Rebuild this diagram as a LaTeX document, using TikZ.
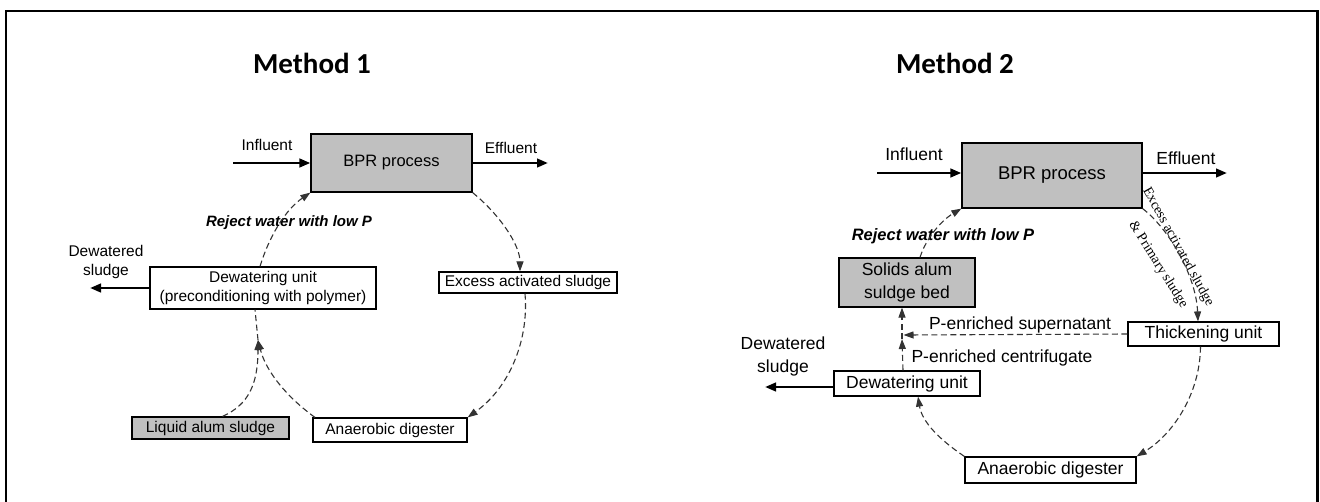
\documentclass[tikz,border=0pt]{standalone}
\usepackage{fontspec}
\setmainfont{Liberation Sans}
\newfontfamily\titlefont{Carlito}
\newfontfamily\seriffont{Liberation Serif}
\usetikzlibrary{arrows.meta}
\definecolor{boxgray}{RGB}{192,192,192}
\newcommand{\fmone}{\fontsize{15.5}{19}\selectfont}
\newcommand{\fmtwo}{\fontsize{17.5}{23}\selectfont}
\tikzset{
  box/.style={draw, line width=1.2pt, inner sep=1pt, align=center},
  gbox/.style={box, fill=boxgray},
  flowline/.style={draw=black!80, line width=1.1pt, dash pattern=on 6pt off 3.5pt},
  flow/.style={flowline, -{Triangle[length=10pt,width=7pt]}},
  heavy/.style={line width=2.6pt, -{Triangle[length=11pt,width=8.5pt]}},
  lbl/.style={inner sep=0pt, align=center},
  ttl/.style={inner sep=0pt, font=\titlefont\bfseries\fontsize{29}{34}\selectfont},
}
\begin{document}
\begin{tikzpicture}[x=1pt,y=-1pt]
\useasboundingbox (0,0) rectangle (1320,501);
% outer frame
\draw[line width=2.6pt] (6,520) -- (6,11) -- (1317.5,11) -- (1317.5,520);

% ---------------- Method 1 ----------------
\node[ttl] (t1) at (312,63) {Method 1};
\begin{scope}[every node/.append style={font=\fmone}]
\node[gbox, minimum width=161pt, minimum height=58pt] (bpr1) at (391.5,163) {\fontsize{16.5}{19}\selectfont BPR process};
\node[box, minimum width=226pt, minimum height=42pt] (dw1) at (263,288) {Dewatering unit\\(preconditioning with polymer)};
\node[box, minimum width=178pt, minimum height=21pt] (ex1) at (528,282.5) {Excess activated sludge};
\node[gbox, minimum width=157pt, minimum height=22pt] (liq1) at (210.5,428) {Liquid alum sludge};
\node[box, minimum width=154pt, minimum height=24pt] (an1) at (390,430) {Anaerobic digester};
\node[lbl] (inl1) at (267,145) {Influent};
\node[lbl] (outl1) at (511,148) {Effluent};
\node[lbl, font=\fmone\bfseries\itshape\fontsize{15}{18}\selectfont] (rej1) at (289,223) {Reject water with low P};
\node[lbl] (dsl1) at (106,262) {Dewatered\\sludge};
\end{scope}
\coordinate (in1) at (233,163);
\coordinate (out1) at (548,163);
\coordinate (ds1) at (90,288);
\coordinate (m1) at (258,340);
\draw[heavy] (in1) -- (bpr1.west);
\draw[heavy] (bpr1.east) -- (out1);
\draw[heavy] (dw1.west) -- (ds1);
\draw[flow] (bpr1.south east) .. controls (500,215) and (520,245) .. ([xshift=-8pt]ex1.north);
\draw[flow] ([xshift=-3pt]ex1.south) .. controls (529,341) and (509,388) .. (an1.north east);
\draw[flow] ([xshift=-75pt]an1.north) .. controls (288,398) and (266,372) .. (m1);
\draw[flow] ([xshift=12pt]liq1.north) .. controls (248,405) and (258,385) .. (m1);
\draw[flowline] (m1) -- ([xshift=-8pt]dw1.south);
\draw[flow] ([xshift=-3pt]dw1.north) .. controls (269,237) and (285,210) .. (bpr1.south west);

% ---------------- Method 2 ----------------
\node[ttl] (t2) at (955,63) {Method 2};
\begin{scope}[every node/.append style={font=\fmtwo}]
\node[gbox, minimum width=180pt, minimum height=65pt] (bpr2) at (1052,175.5) {\fontsize{18.5}{22}\selectfont BPR process};
\node[gbox, minimum width=136pt, minimum height=49pt] (sol2) at (907,282.5) {Solids alum\\suldge bed};
\node[box, minimum width=151pt, minimum height=24pt] (th2) at (1203.5,334) {Thickening unit};
\node[box, minimum width=146pt, minimum height=25pt] (dw2) at (907,383.5) {Dewatering unit};
\node[box, minimum width=171pt, minimum height=26pt] (an2) at (1050.5,470) {Anaerobic digester};
\node[lbl] (inl2) at (914,154) {Influent};
\node[lbl] (outl2) at (1186,158) {Effluent};
\node[lbl, font=\bfseries\itshape\fontsize{16.5}{19}\selectfont] (rej2) at (943,236) {Reject water with low P};
\node[lbl] (dsl2) at (783,356) {Dewatered\\sludge};
\node[lbl] (sup2) at (1020,325) {P-enriched supernatant};
\node[lbl] (cen2) at (1002,358) {P-enriched centrifugate};
\node[lbl, font=\seriffont\fontsize{14}{16}\selectfont, rotate=-61] (exl2) at (1178,247) {Excess activated sludge};
\node[lbl, font=\seriffont\fontsize{14}{16}\selectfont, rotate=-58] (prl2) at (1158,265) {\& Primary sludge};
\end{scope}
\coordinate (in2) at (877,173);
\coordinate (out2) at (1227,173);
\coordinate (ds2) at (765,387);
\coordinate (j2) at (902,339);
\coordinate (k2) at (903.5,335);
\draw[heavy] (in2) -- (in2 -| bpr2.west);
\draw[heavy] (ds2 -| dw2.west) -- (ds2);
\draw[heavy] (out2 -| bpr2.east) -- (out2);
\draw[flow] (bpr2.south east) .. controls (1168,228) and (1196,275) .. ([xshift=-5.5pt]th2.north);
\draw[flow] ([xshift=-3pt]th2.south) .. controls (1200,395) and (1172,435) .. (an2.north east);
\draw[flow] (an2.north west) .. controls (940,440) and (922,422) .. ([xshift=11pt]dw2.south);
\draw[flow] ([xshift=13pt]sol2.north) .. controls (926,238) and (942,220) .. (bpr2.south west);
\draw[flow] ([xshift=-4pt]dw2.north) -- (j2);
\draw[flow] (j2) -- ([xshift=-5pt]sol2.south);
\draw[flow] (th2.west) -- (k2);
\end{tikzpicture}
\end{document}
